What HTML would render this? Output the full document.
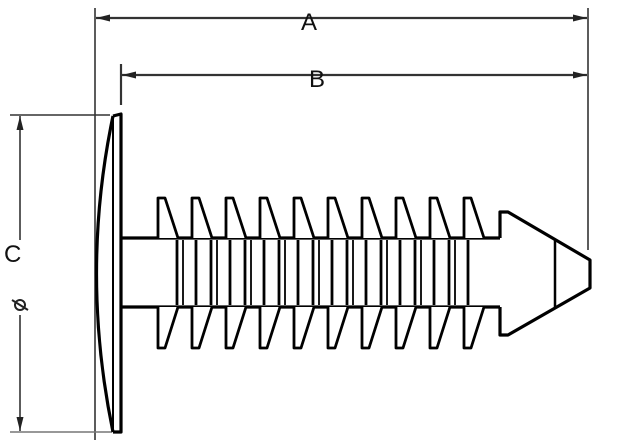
<!DOCTYPE html>
<html><head><style>html,body{margin:0;padding:0;background:#fff}svg{display:block}</style></head>
<body>
<svg width="623" height="445" viewBox="0 0 623 445" xmlns="http://www.w3.org/2000/svg">
<defs>
<marker id="ar" markerWidth="14" markerHeight="7" refX="14" refY="3.5" orient="auto" markerUnits="userSpaceOnUse"><path d="M0,0 L14,3.5 L0,7z" fill="#222"/></marker>
</defs>
<g stroke="#333" stroke-width="1.6" fill="none">
<line x1="95" y1="8" x2="95" y2="440"/>
<line x1="121" y1="64" x2="121" y2="105" stroke-width="2.2"/>
<line x1="588" y1="8" x2="588" y2="250"/>
<line x1="10" y1="115" x2="110" y2="115"/>
<line x1="10" y1="432" x2="112" y2="432" stroke="#777"/>
<line x1="320" y1="18" x2="96" y2="18" marker-end="url(#ar)" stroke-width="2.2"/>
<line x1="320" y1="18" x2="587" y2="18" marker-end="url(#ar)" stroke-width="2.2"/>
<line x1="320" y1="75" x2="122" y2="75" marker-end="url(#ar)" stroke-width="2.2"/>
<line x1="320" y1="75" x2="587" y2="75" marker-end="url(#ar)" stroke-width="2.2"/>
<line x1="20" y1="240" x2="20" y2="116" marker-end="url(#ar)"/>
<line x1="20" y1="315" x2="20" y2="431" marker-end="url(#ar)"/>
</g>
<text x="301" y="30" font-family="Liberation Sans, sans-serif" font-size="24" fill="#111">A</text>
<text x="309" y="87" font-family="Liberation Sans, sans-serif" font-size="24" fill="#111">B</text>
<text x="4" y="262" font-family="Liberation Sans, sans-serif" font-size="24" fill="#111">C</text>
<g stroke="#222" stroke-width="2" fill="none"><circle cx="20" cy="305" r="5"/><line x1="12" y1="300" x2="28" y2="310"/></g>
<g stroke="#000" stroke-width="3.2" fill="none" stroke-linejoin="round">
<path d="M113,116 Q80,273 113,432"/>
<path d="M113,116 L121,114 L121,432 L113,432"/>
<line x1="113" y1="118" x2="113" y2="430" stroke-width="2"/>
<line x1="121" y1="238" x2="500" y2="238"/>
<line x1="121" y1="307" x2="500" y2="307"/>
<path d="M500,238 L500,212 L508,212 L590,260 L590,288 L508,335 L500,335 L500,307"/>
<line x1="555" y1="240" x2="555" y2="307" stroke-width="2.5"/>
</g>
<g stroke="#000" stroke-width="2.8" fill="#fff" stroke-linejoin="round">
<g id="f">
<path d="M158,238 L158,198 L165,198 L178,238"/>
<path d="M158,307 L158,348 L165,348 L178,307"/>
<line x1="177" y1="240" x2="177" y2="305"/>
<line x1="183" y1="240" x2="183" y2="305" stroke-width="1.8"/>
<line x1="196" y1="240" x2="196" y2="305"/>
</g>
<use href="#f" x="34"/><use href="#f" x="68"/><use href="#f" x="102"/><use href="#f" x="136"/>
<use href="#f" x="170"/><use href="#f" x="204"/><use href="#f" x="238"/><use href="#f" x="272"/>
<g transform="translate(306,0)">
<path d="M158,238 L158,198 L165,198 L178,238"/>
<path d="M158,307 L158,348 L165,348 L178,307"/>
</g>
</g>
</svg>
</body></html>
